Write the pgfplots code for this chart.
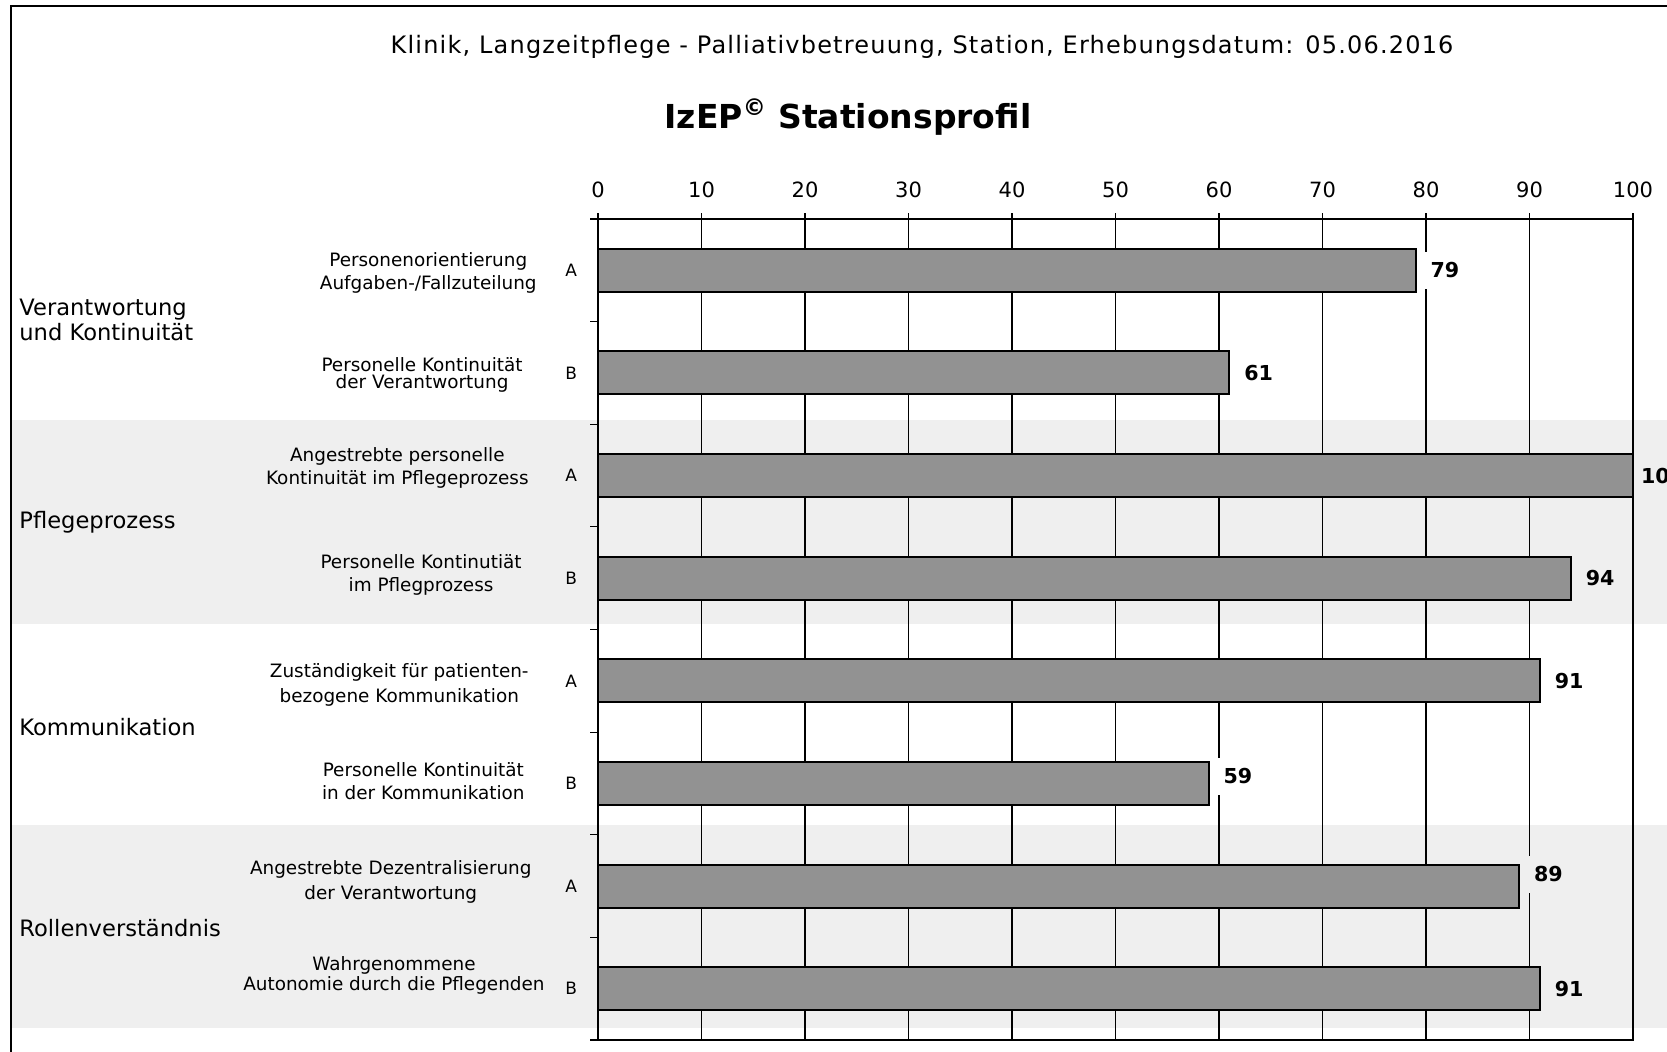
\documentclass[border=0pt]{standalone}
\usepackage{fontspec}
\usepackage{pgfplots}
\usepackage{pgfplotstable}
\pgfplotsset{compat=1.18}
\setmainfont{DejaVu Sans}
\newfontfamily\spacedfont{DejaVu Sans}[LetterSpace=5]
\definecolor{band}{HTML}{EFEFEF}
\definecolor{barfill}{HTML}{929292}

\pgfplotstableread{
y x dy dx
1 79 0 4
2 61 0 4
5 91 0 4
6 59 3.5 4
}\whiterows
\pgfplotstableread{
y x dy dx
3 100 0 0.5
4 94 0 4
7 89 6 4
8 91 0 4
}\grayrows

\begin{document}
\begin{tikzpicture}
% background bands and frame
\fill[band] (6pt,-210pt) rectangle (845pt,-312pt);
\fill[band] (6pt,-412.5pt) rectangle (845pt,-514pt);
\draw[line width=1pt] (5.5pt,-535pt) -- (5.5pt,-3pt) -- (845pt,-3pt);

\begin{axis}[
  at={(299pt,-109.5pt)}, anchor=north west,
  scale only axis, width=517.5pt, height=410.5pt,
  xmin=0, xmax=100, ymin=0.5, ymax=8.5, y dir=reverse,
  clip=false,
  /pgf/number format/assume math mode=true,
  xtick={0,10,...,100},
  xtick pos=right, xticklabel pos=right,
  ytick={1,...,8}, yticklabels={A,B,A,B,A,B,A,B},
  minor ytick={0.5,1.5,...,8.5},
  ytick pos=left,
  tick align=outside,
  major tick length=3pt, minor tick length=4pt,
  every major y tick/.append style={draw=none},
  every minor y tick/.append style={black, line width=0.6pt},
  every major x tick/.append style={black, line width=0.6pt},
  xmajorgrids, grid style={black, line width=0.55pt},
  axis line style={line width=1pt},
  xticklabel style={font=\fontsize{10.5}{13}\selectfont, yshift=4pt},
  yticklabel style={font=\fontsize{8.5}{10}\selectfont, xshift=-4pt},
  xbar, bar width=21.5pt, bar shift=0pt,
]
\addplot[xbar, fill=barfill, draw=black, line width=1pt,
  point meta=explicit symbolic,
  visualization depends on={\thisrow{dy} \as \dy},
  visualization depends on={\thisrow{dx} \as \dx},
  nodes near coords,
  nodes near coords style={anchor=west, xshift=\dx pt, yshift=\dy pt, fill=white,
    inner xsep=3pt, inner ysep=5.5pt, text height=7.5pt, text depth=0pt,
    font=\bfseries\fontsize{10.3}{12}\selectfont, text=black}]
  table[x=x, y=y, meta=x]{\whiterows};
\addplot[xbar, fill=barfill, draw=black, line width=1pt,
  point meta=explicit symbolic,
  visualization depends on={\thisrow{dy} \as \dy},
  visualization depends on={\thisrow{dx} \as \dx},
  nodes near coords,
  nodes near coords style={anchor=west, xshift=\dx pt, yshift=\dy pt, fill=band,
    inner xsep=3pt, inner ysep=5.5pt, text height=7.5pt, text depth=0pt,
    font=\bfseries\fontsize{10.3}{12}\selectfont, text=black}]
  table[x=x, y=y, meta=x]{\grayrows};
\end{axis}

% titles
\node[font=\spacedfont\fontsize{12}{14}\selectfont] at (461pt,-23.5pt)
  {Klinik, Langzeitpflege - Palliativbetreuung, Station, Erhebungsdatum: 05.06.2016};
\node[font=\bfseries\fontsize{16.5}{19}\selectfont] at (424pt,-58.5pt)
  {IzEP\textsuperscript{©} Stationsprofil};

% sub labels
\tikzset{sub/.style={anchor=east, align=center, inner sep=0pt}}
\node[sub, font=\fontsize{9.2}{11.5}\selectfont] at (268.5pt,-136.5pt) {Personenorientierung\\Aufgaben-/Fallzuteilung};
\node[sub, font=\fontsize{9.2}{8.5}\selectfont] at (261.5pt,-187.5pt) {Personelle Kontinuität\\der Verantwortung};
\node[sub, font=\fontsize{9.2}{11.5}\selectfont] at (264.5pt,-234pt) {Angestrebte personelle\\Kontinuität im Pflegeprozess};
\node[sub, font=\fontsize{9.2}{11.5}\selectfont] at (261pt,-287.5pt) {Personelle Kontinutiät\\im Pflegprozess};
\node[sub, font=\fontsize{9.2}{12.5}\selectfont] at (264.5pt,-342.5pt) {Zuständigkeit für patienten-\\bezogene Kommunikation};
\node[sub, font=\fontsize{9.2}{11.5}\selectfont] at (262.5pt,-390.5pt) {Personelle Kontinuität\\in der Kommunikation};
\node[sub, font=\fontsize{9.2}{12.5}\selectfont] at (266pt,-441pt) {Angestrebte Dezentralisierung\\der Verantwortung};
\node[sub, font=\fontsize{9.2}{10}\selectfont] at (272.5pt,-487.5pt) {Wahrgenommene\\Autonomie durch die Pflegenden};

% group labels
\tikzset{grp/.style={anchor=west, align=left, inner sep=0pt, font=\fontsize{11.3}{12.5}\selectfont}}
\node[grp] at (9.5pt,-160pt) {Verantwortung\\und Kontinuität};
\node[grp] at (9.5pt,-261pt) {Pflegeprozess};
\node[grp] at (9.5pt,-363.5pt) {Kommunikation};
\node[grp] at (9.5pt,-464pt) {Rollenverständnis};

\pgfresetboundingbox
\useasboundingbox (0pt,0pt) rectangle (833.5pt,-526pt);
\end{tikzpicture}
\end{document}
